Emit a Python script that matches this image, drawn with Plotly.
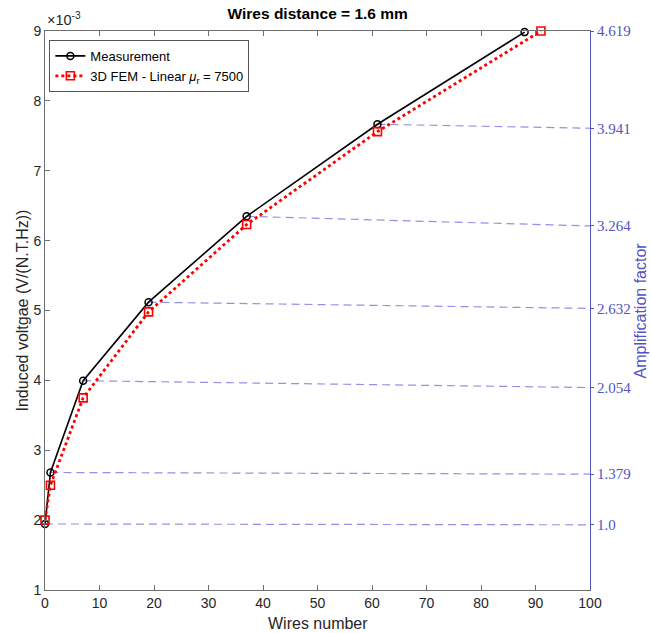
import plotly.graph_objects as go

# ---- data ----
wires_meas = [0, 1, 7, 19, 37, 61, 88]
v_meas = [1.945, 2.682, 3.995, 5.119, 6.348, 7.665, 8.984]

wires_fem = [0, 1, 7, 19, 37, 61, 91]
v_fem = [2.0, 2.5, 3.75, 4.98, 6.23, 7.56, 9.0]

amp_labels = ["1.0", "1.379", "2.054", "2.632", "3.264", "3.941", "4.619"]
amp_level = [1.933, 2.658, 3.897, 5.03, 6.21, 7.608, 9.0]  # right-axis label heights (in left-axis units)

x_ticks = list(range(0, 101, 10))
y_ticks = list(range(1, 10))

BLUE = "#5353c4"
DASH = "rgba(110,110,220,0.75)"
AX = "#6e6e6e"
TXT = "#262626"

fig = go.Figure()

# dashed guide lines from measurement points to right axis
dx, dy = [], []
for i in range(len(amp_labels) - 1):
    dx += [wires_meas[i], x_ticks[-1], None]
    dy += [v_meas[i], amp_level[i], None]
fig.add_trace(go.Scatter(x=dx, y=dy, mode="lines", showlegend=False,
                         line=dict(color=DASH, width=1.2, dash="8px,5px"),
                         hoverinfo="skip"))

fig.add_trace(go.Scatter(x=wires_meas, y=v_meas, mode="lines+markers",
                         name="Measurement",
                         line=dict(color="black", width=1.6),
                         marker=dict(symbol="circle-open", size=7, color="black",
                                     line=dict(width=1.5)),
                         cliponaxis=False))
fig.add_trace(go.Scatter(x=wires_fem, y=v_fem, mode="lines+markers",
                         name="3D FEM - Linear <i>μ</i><sub>r</sub> = 7500",
                         line=dict(color="#ff0000", width=2.8, dash="dot"),
                         marker=dict(symbol="square-open", size=8, color="#ff0000",
                                     line=dict(width=1.6)),
                         cliponaxis=False))

# invisible trace to anchor right axis
fig.add_trace(go.Scatter(x=[None], y=[None], yaxis="y2", showlegend=False,
                         hoverinfo="skip"))

fig.update_layout(
    width=651, height=633,
    margin=dict(l=45, r=61, t=31, b=43),
    paper_bgcolor="white", plot_bgcolor="white",
    font=dict(family="Liberation Sans, Arial, sans-serif", size=14, color=TXT),
    title=dict(text="<b>Wires distance = 1.6 mm</b>", x=0.488, xanchor="center",
               y=0.978, yanchor="middle", font=dict(size=15.5, color="black")),
    showlegend=True,
    legend=dict(x=0.008, y=0.984, xanchor="left", yanchor="top",
                bgcolor="white", bordercolor="#555555", borderwidth=1,
                font=dict(size=13, color="black"), tracegroupgap=0,
                itemwidth=30),
    xaxis=dict(range=[0, 100], tickvals=x_ticks, showgrid=False, zeroline=False,
               showline=True, linecolor=AX, linewidth=1, mirror="ticks",
               ticks="inside", ticklen=5, tickcolor=AX, automargin=False,
               tickfont=dict(size=14)),
    yaxis=dict(range=[1, 9], tickvals=y_ticks, showgrid=False, zeroline=False,
               showline=True, linecolor=AX, linewidth=1, automargin=False,
               ticks="inside", ticklen=5, tickcolor=AX,
               tickfont=dict(size=14)),
    yaxis2=dict(range=[1, 9], overlaying="y", side="right", anchor="x",
                tickvals=amp_level, ticktext=amp_labels,
                showgrid=False, zeroline=False, automargin=False,
                showline=True, linecolor=BLUE, linewidth=1.2,
                ticks="outside", ticklen=3, tickcolor=BLUE,
                tickfont=dict(family="Liberation Serif, Times New Roman, serif",
                              size=15, color=BLUE)),
    annotations=[
        dict(text="×10<sup>-3</sup>", xref="paper", yref="paper",
             x=0.0, y=1.0, xanchor="left", yanchor="bottom",
             showarrow=False, font=dict(size=14.5, color=TXT), yshift=1),
        dict(text="Wires number", xref="paper", yref="paper", x=0.5, y=0,
             xanchor="center", yanchor="middle", yshift=-33, showarrow=False,
             font=dict(size=16, color=TXT)),
        dict(text="Induced voltgae (V/(N.T.Hz))", xref="paper", yref="paper",
             x=0, y=0.5, xanchor="center", yanchor="middle", xshift=-23,
             textangle=-90, showarrow=False, font=dict(size=16, color=TXT)),
        dict(text="Amplification factor", xref="paper", yref="paper",
             x=1, y=0.5, xanchor="center", yanchor="middle", xshift=50,
             textangle=-90, showarrow=False, font=dict(size=16, color=BLUE)),
    ],
)

fig.write_html("out.html")
